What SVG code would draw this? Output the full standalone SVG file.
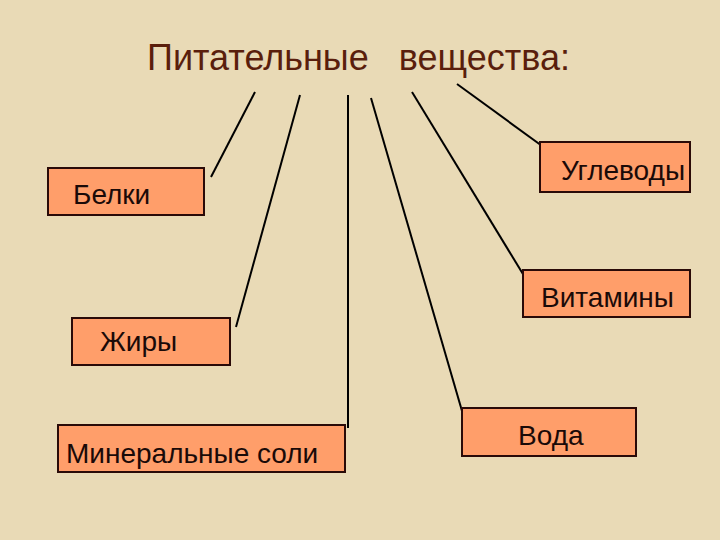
<svg xmlns="http://www.w3.org/2000/svg" width="720" height="540" viewBox="0 0 720 540">
<style>
.box{fill:#FF9E6A;stroke:#2a0a08;stroke-width:2}
.t{font-family:"Liberation Sans",Arial,sans-serif;font-size:28px;fill:#1a0a08}
.c line{stroke:#000;stroke-width:2}
</style>
<rect width="720" height="540" fill="#E9DAB6"/>
<text x="147" y="70" font-family="Liberation Sans,Arial,sans-serif" font-size="36" fill="#5a1e0c" xml:space="preserve">Питательные   вещества:</text>
<g class="c" id="connectors">
<line x1="255" y1="92" x2="211" y2="177"/>
<line x1="300" y1="95" x2="236" y2="327"/>
<line x1="348" y1="95" x2="348" y2="428"/>
<line x1="371" y1="98" x2="462" y2="411"/>
<line x1="412" y1="92" x2="526" y2="279"/>
<line x1="457" y1="84" x2="549" y2="151"/>
</g>
<g id="belki"><rect class="box" x="48" y="168" width="156" height="47"/><text class="t" x="73" y="204">Белки</text></g>
<g id="uglevody"><rect class="box" x="540" y="142" width="150" height="50"/><text class="t" x="561" y="180">Углеводы</text></g>
<g id="vitaminy"><rect class="box" x="523" y="270" width="167" height="47"/><text class="t" x="541" y="307">Витамины</text></g>
<g id="zhiry"><rect class="box" x="72" y="318" width="158" height="47"/><text class="t" x="100" y="351">Жиры</text></g>
<g id="mineral"><rect class="box" x="58" y="425" width="287" height="47"/><text class="t" x="66" y="463">Минеральные соли</text></g>
<g id="voda"><rect class="box" x="462" y="408" width="174" height="48"/><text class="t" x="518" y="445">Вода</text></g>
</svg>
